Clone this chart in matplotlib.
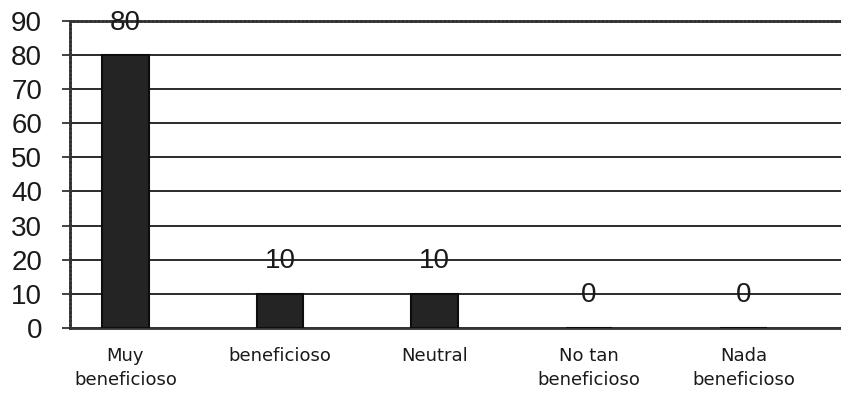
import matplotlib.pyplot as plt

# survey answers and counts
categorias = ["Muy\nbeneficioso", "beneficioso", "Neutral", "No tan\nbeneficioso", "Nada\nbeneficioso"]
valores = [80, 10, 10, 0, 0]
yticks = [0, 10, 20, 30, 40, 50, 60, 70, 80, 90]

fig = plt.figure(figsize=(8.41, 3.96), dpi=100)
ax = fig.add_axes([0.083, 0.172, 0.917, 0.775])

x = list(range(len(categorias)))
bars = ax.bar(x, valores, width=0.3, color="#242424", edgecolor="#0d0d0d", linewidth=1.5, zorder=3)

for xi, v in zip(x, valores):
    ax.annotate(str(v), (xi, v), xytext=(0, 14), textcoords="offset points",
                ha="center", va="bottom", fontsize=20, family="Liberation Sans",
                color="#1a1a1a", zorder=4)

ax.set_ylim(0, 90)
ax.set_xlim(-0.36, 4.63)
ax.set_yticks(yticks)
ax.set_yticklabels([str(t) for t in yticks], fontsize=20, family="Liberation Sans", color="#1a1a1a")
ax.set_xticks(x)
ax.set_xticklabels(categorias, fontsize=13, family="DejaVu Sans", color="#1a1a1a",
                   va="top", linespacing=1.4)
ax.tick_params(axis="x", length=0, pad=14)
ax.tick_params(axis="y", length=6, width=1.2, direction="out", pad=14, color="#222")

ax.yaxis.grid(True, color="#1a1a1a", linewidth=1.3, zorder=1)
ax.set_axisbelow(True)

ax.spines["right"].set_visible(False)
for side in ["top", "left"]:
    ax.spines[side].set_linewidth(2.0)
    ax.spines[side].set_linestyle((0, (1, 0.5)))
    ax.spines[side].set_color("#333")
ax.spines["bottom"].set_linewidth(2.0)
ax.spines["bottom"].set_color("#333")

fig.savefig("out.png", dpi=100)
